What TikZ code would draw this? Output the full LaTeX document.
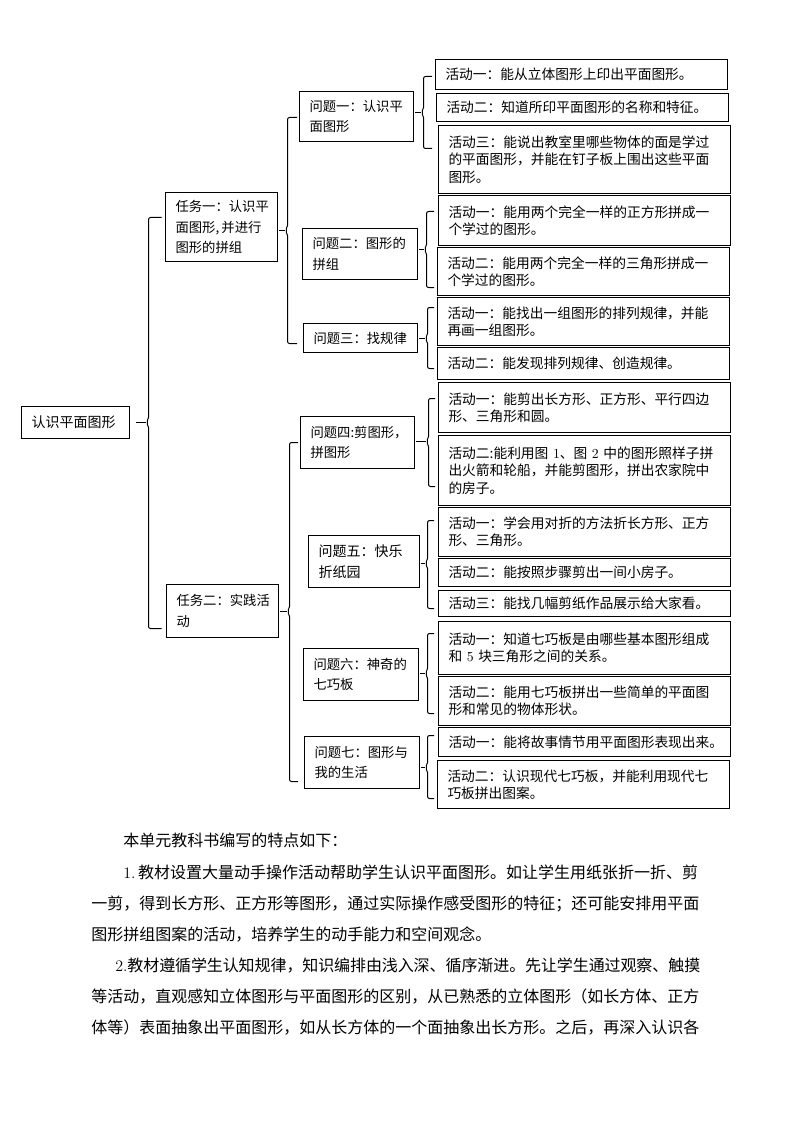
\documentclass[tikz,border=0pt]{standalone}
\usepackage{fontspec}
\newfontfamily\cjk{Noto Sans CJK SC}
\usetikzlibrary{calc}
\tikzset{
  ln/.style={line width=0.75pt, line join=round},
  bx/.style={draw, line width=0.75pt, inner xsep=7.5pt, inner ysep=0pt, align=left},
  act/.style={font=\cjk\fontsize{10.3}{13}\selectfont},
  qst/.style={font=\cjk\fontsize{10}{15.4}\selectfont},
  rootf/.style={font=\cjk\fontsize{10.5}{13}\selectfont},
  bodyl/.style={inner sep=0pt, anchor=base west, font=\cjk\fontsize{12}{23.3}\selectfont},
}
\newcommand\drawbox[7]{%
  \pgfmathsetmacro\bxw{(#5-#3)*0.75-15}%
  \pgfmathsetmacro\bxh{(#6-#4)*0.75}%
  \node[bx,#2,text width=\bxw pt,minimum height=\bxh pt] (#1) at ({(#3+#5)/2},{(#4+#6)/2}) {#7};}
% parent, name, xv, top, bottom, notchy, armend, startgap
\newcommand\drawbrace[8]{%
  \coordinate (#2n) at ({#3-2.5},{#6});
  \path (#1.east) ++(#8,0) coordinate (#2s);
  \draw[ln,rounded corners=1.5pt] ({#7},{#4}) -- ({#3},{#4}) -- ({#3},{#6-3}) -- (#2n) -- ({#3},{#6+3}) -- ({#3},{#5}) -- ({#7},{#5});
  \draw[ln] (#2s |- #2n) -- (#2n);}
\newcommand\jset{\XeTeXlinebreaklocale "zh"\XeTeXlinebreakskip=0pt plus 3pt minus 0.4pt\parfillskip=0pt\relax}
\begin{document}
\begin{tikzpicture}[x=0.75pt,y=-0.75pt]
\useasboundingbox (0,0) rectangle (794,1123);

% root and tasks
\drawbox{root}{rootf}{21.5}{406.5}{129.5}{438.5}{认识平面图形}
\drawbox{t1}{qst}{165.5}{192.5}{277.5}{261.5}{任务一：认识平\\面图形,\,并进行\\图形的拼组}
\drawbox{t2}{qst}{166.5}{584.5}{278.5}{637.5}{任务二：实践活\\动}

% questions
\drawbox{q1}{qst}{299.5}{91.5}{413.5}{141.5}{问题一：认识平\\面图形}
\drawbox{q2}{qst}{302.5}{228.5}{417.5}{279.5}{问题二：图形的\\拼组}
\drawbox{q3}{qst}{303.5}{323.5}{417.5}{352.5}{问题三：找规律}
\drawbox{q4}{qst}{300.5}{416.5}{414.5}{468.5}{问题四:剪图形，\\拼图形}
\drawbox{q5}{rootf,font=\cjk\fontsize{10.5}{15.4}\selectfont}{308.5}{535.5}{419.5}{587.5}{问题五：快乐\\折纸园}
\drawbox{q6}{qst}{303.5}{648.5}{418.5}{700.5}{问题六：神奇的\\七巧板}
\drawbox{q7}{qst}{304.5}{736.5}{419.5}{788.5}{问题七：图形与\\我的生活}

% activities
\drawbox{a11}{act}{435.5}{59.5}{727.5}{89.5}{活动一：能从立体图形上印出平面图形。}
\drawbox{a12}{act}{436.5}{93.5}{728.5}{121.5}{活动二：知道所印平面图形的名称和特征。}
\drawbox{a13}{act}{438.5}{125.5}{730.5}{193.5}{活动三：能说出教室里哪些物体的面是学过\\的平面图形，并能在钉子板上围出这些平面\\图形。}
\drawbox{a21}{act}{438.5}{195.5}{730.5}{245.5}{活动一：能用两个完全一样的正方形拼成一\\个学过的图形。}
\drawbox{a22}{act}{437.5}{247.5}{729.5}{295.5}{活动二：能用两个完全一样的三角形拼成一\\个学过的图形。}
\drawbox{a31}{act}{437.5}{297.5}{729.5}{345.5}{活动一：能找出一组图形的排列规律，并能\\再画一组图形。}
\drawbox{a32}{act}{437.5}{347.5}{729.5}{379.5}{活动二：能发现排列规律、创造规律。}
\drawbox{a41}{act}{438.5}{382.5}{730.5}{432.5}{活动一：能剪出长方形、正方形、平行四边\\形、三角形和圆。}
\drawbox{a42}{act}{438.5}{435.5}{730.5}{505.5}{活动二:能利用图~{\rmfamily 1}、图~{\rmfamily 2}~中的图形照样子拼\\出火箭和轮船，并能剪图形，拼出农家院中\\的房子。}
\drawbox{a51}{act}{438.5}{507.5}{730.5}{556.5}{活动一：学会用对折的方法折长方形、正方\\形、三角形。}
\drawbox{a52}{act}{438.5}{558.5}{730.5}{586.5}{活动二：能按照步骤剪出一间小房子。}
\drawbox{a53}{act}{438.5}{590.5}{730.5}{616.5}{活动三：能找几幅剪纸作品展示给大家看。}
\drawbox{a61}{act}{438.5}{621.5}{730.5}{674.5}{活动一：知道七巧板是由哪些基本图形组成\\和~{\rmfamily 5}~块三角形之间的关系。}
\drawbox{a62}{act}{438.5}{676.5}{730.5}{725.5}{活动二：能用七巧板拼出一些简单的平面图\\形和常见的物体形状。}
\drawbox{a71}{act}{438.5}{727.5}{730.5}{756.5}{活动一：能将故事情节用平面图形表现出来。}
\drawbox{a72}{act}{437.5}{760.5}{729.5}{808.5}{活动二：认识现代七巧板，并能利用现代七\\巧板拼出图案。}

% braces
\drawbrace{root}{bR}{148.5}{217.5}{628.5}{422.5}{161.5}{4.5pt}
\drawbrace{t1}{bT1}{287.5}{117.5}{343.5}{230.5}{297}{1pt}
\drawbrace{t2}{bT2}{289.5}{442.5}{781.5}{611.5}{298}{1pt}
\drawbrace{q1}{bA1}{423.5}{76.5}{148.5}{112.5}{432}{0.8pt}
\drawbrace{q2}{bA2}{426.5}{211.5}{287.5}{249.5}{434}{0.8pt}
\drawbrace{q3}{bA3}{427.5}{307.5}{368.5}{338.5}{434}{0.8pt}
\drawbrace{q4}{bA4}{428.5}{398.5}{486.5}{441.5}{435}{0.8pt}
\drawbrace{q5}{bA5}{427.5}{520.5}{608.5}{563.5}{434}{0.8pt}
\drawbrace{q6}{bA6}{427.5}{633.5}{713.5}{673.5}{434}{0.8pt}
\drawbrace{q7}{bA7}{427.5}{735.5}{798.5}{767.5}{434}{0.8pt}

% body text
\node[bodyl] (L1) at (123,846.8) {本单元教科书编写的特点如下：};
\node[bodyl,text width=432.75pt] (L2) at (123,878.1) {\jset {\rmfamily 1.}\,教材设置大量动手操作活动帮助学生认识平面图形。如让学生用纸张折一折、剪};
\node[bodyl,text width=456.75pt] (L3) at (91,909.1) {\jset 一剪，得到长方形、正方形等图形，通过实际操作感受图形的特征；还可能安排用平面};
\node[bodyl] (L4) at (91,940.1) {图形拼组图案的活动，培养学生的动手能力和空间观念。};
\node[bodyl,text width=438.75pt] (L5) at (115,971.8) {\jset {\rmfamily 2.}教材遵循学生认知规律，知识编排由浅入深、循序渐进。先让学生通过观察、触摸};
\node[bodyl,text width=456.75pt] (L6) at (91,1002.8) {\jset 等活动，直观感知立体图形与平面图形的区别，从已熟悉的立体图形（如长方体、正方};
\node[bodyl,text width=456.75pt] (L7) at (91,1033.4) {\jset 体等）表面抽象出平面图形，如从长方体的一个面抽象出长方形。之后，再深入认识各};
\end{tikzpicture}
\end{document}
